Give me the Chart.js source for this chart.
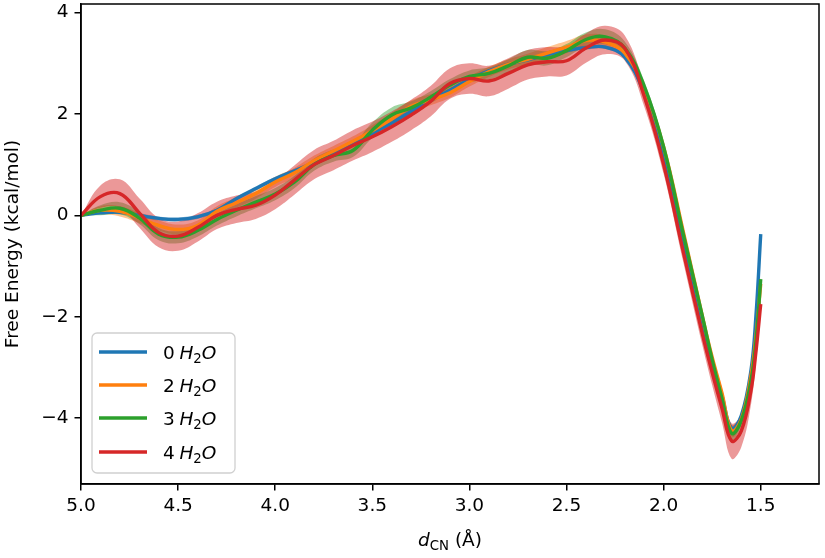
<!DOCTYPE html>
<html><head><meta charset="utf-8">
<script src="https://cdn.jsdelivr.net/npm/chart.js@4.4.0/dist/chart.umd.min.js"></script>
<style>html,body{margin:0;padding:0;background:#fff}#wrap{width:825px;height:558px;position:relative}</style>
</head><body><div id="wrap"><canvas id="c" width="825" height="558"></canvas></div>
<script>
// ---- data ----
const dCN = [5.0,4.9,4.8,4.7,4.6,4.5,4.4,4.3,4.2,4.1,4.0,3.9,3.8,3.7,3.6,3.5,3.4,3.3,3.2,3.1,3.0,2.9,2.8,2.7,2.6,2.5,2.4,2.3,2.2,2.1,2.0,1.9,1.8,1.75,1.7,1.65,1.6,1.55,1.525,1.5];
const seriesLabels = ['0 H2O','2 H2O','3 H2O','4 H2O'];
const e0 = [0,0.05,0.06,0.0,-0.06,-0.08,-0.03,0.1,0.33,0.53,0.72,0.88,1.04,1.2,1.4,1.62,1.82,2.05,2.27,2.47,2.68,2.85,2.98,3.07,3.17,3.25,3.31,3.32,3.12,2.4,1.2,-0.5,-2.2,-2.9,-3.55,-4.2,-3.95,-3.05,-2.0,-0.37];
const e2 = [0,0.1,0.08,-0.05,-0.2,-0.28,-0.2,0.08,0.25,0.43,0.66,0.84,1.08,1.27,1.46,1.67,1.9,2.15,2.28,2.42,2.64,2.83,2.98,3.08,3.2,3.32,3.45,3.42,3.2,2.5,1.35,-0.3,-2.0,-2.8,-3.5,-4.25,-4.02,-3.15,-2.4,-1.35];
const e3 = [0,0.1,0.14,-0.05,-0.37,-0.43,-0.3,-0.08,0.1,0.26,0.42,0.66,1.0,1.18,1.28,1.68,1.98,2.12,2.33,2.57,2.74,2.8,2.95,3.12,3.1,3.25,3.47,3.52,3.3,2.55,1.35,-0.35,-2.0,-2.85,-3.6,-4.3,-4.05,-3.25,-2.5,-1.26];
const e4 = [0,0.37,0.43,0.05,-0.34,-0.41,-0.24,0.0,0.12,0.2,0.4,0.7,1.0,1.18,1.38,1.55,1.75,1.98,2.25,2.6,2.7,2.65,2.8,2.97,3.03,3.05,3.3,3.46,3.3,2.35,1.0,-0.7,-2.35,-3.1,-3.8,-4.45,-4.25,-3.45,-2.7,-1.75];
const err0 = [0,0.03,0.04,0.04,0.04,0.04,0.04,0.04,0.04,0.04,0.04,0.04,0.04,0.04,0.04,0.04,0.04,0.04,0.04,0.04,0.04,0.04,0.04,0.04,0.04,0.04,0.04,0.04,0.04,0.04,0.04,0.04,0.04,0.04,0.05,0.06,0.05,0.04,0.04,0.03];
const err2 = [0,0.08,0.1,0.1,0.1,0.1,0.1,0.1,0.1,0.1,0.1,0.1,0.1,0.1,0.1,0.11,0.12,0.12,0.11,0.1,0.1,0.1,0.1,0.11,0.12,0.12,0.12,0.12,0.1,0.08,0.07,0.07,0.07,0.08,0.1,0.12,0.1,0.08,0.06,0.05];
const err3 = [0,0.1,0.12,0.12,0.12,0.12,0.12,0.12,0.12,0.12,0.12,0.12,0.12,0.12,0.13,0.15,0.15,0.13,0.12,0.12,0.12,0.12,0.13,0.14,0.14,0.13,0.14,0.15,0.13,0.1,0.08,0.08,0.08,0.08,0.1,0.12,0.1,0.08,0.06,0.05];
const err4 = [0,0.22,0.28,0.29,0.29,0.29,0.28,0.27,0.27,0.27,0.28,0.29,0.29,0.29,0.3,0.3,0.3,0.3,0.3,0.3,0.3,0.3,0.3,0.29,0.29,0.29,0.29,0.28,0.25,0.2,0.18,0.2,0.22,0.25,0.28,0.35,0.32,0.28,0.22,0.18];
const xTicks = [5.0,4.5,4.0,3.5,3.0,2.5,2.0,1.5];
const yTicks = [-4,-2,0,2,4];

// ---- styling ----
const FONT = '"DejaVu Sans", sans-serif';
const FS = 18.5;
const colors = ['#1f77b4','#ff7f0e','#2ca02c','#d62728'];
const bandColors = ['rgba(31,119,180,0.45)','rgba(255,127,14,0.45)','rgba(44,160,44,0.45)','rgba(214,39,40,0.48)'];
const values = [e0,e2,e3,e4];
const errs = [err0,err2,err3,err4];

function pts(ys, es, sign){ return dCN.map((x,i)=>({x:x, y: ys[i] + sign*(es ? es[i] : 0)})); }

const datasets = [];
values.forEach((v,i)=>{
  datasets.push({label:'band_hi_'+i, data:pts(v,errs[i],1), borderWidth:0, pointRadius:0, fill:'+1', backgroundColor:bandColors[i], tension:0.4, order:20-i});
  datasets.push({label:'band_lo_'+i, data:pts(v,errs[i],-1), borderWidth:0, pointRadius:0, fill:false, backgroundColor:'rgba(0,0,0,0)', borderColor:'rgba(0,0,0,0)', tension:0.4, order:20-i});
});
values.forEach((v,i)=>{
  datasets.push({label:seriesLabels[i], data:pts(v,null,0), borderColor:colors[i], borderWidth:3.4, pointRadius:0, fill:false, tension:0.4, order:8-i});
});

function drawFormula(ctx, text, x, y, size){
  const parts = text.split(' ');
  ctx.textBaseline = 'alphabetic';
  ctx.textAlign = 'left';
  ctx.font = size+'px '+FONT;
  ctx.fillText(parts[0], x, y);
  x += ctx.measureText(parts[0]).width + size*0.25;
  for (const ch of parts[1]) {
    if (/[0-9]/.test(ch)) {
      ctx.font = (size*0.72)+'px '+FONT;
      ctx.fillText(ch, x, y + size*0.22);
      x += ctx.measureText(ch).width;
    } else {
      ctx.font = 'italic '+size+'px '+FONT;
      ctx.fillText(ch, x, y);
      x += ctx.measureText(ch).width;
    }
  }
}

const decor = {
  id:'decor',
  afterDraw(chart){
    const ctx = chart.ctx, a = chart.chartArea;
    ctx.save();
    ctx.strokeStyle = '#000'; ctx.lineWidth = 1.5;
    ctx.strokeRect(a.left, a.top, a.right-a.left, a.bottom-a.top);
    // x title: d_CN (Å)
    ctx.fillStyle = '#000';
    const cx = (a.left+a.right)/2, base = 546;
    const sub = FS*0.72;
    ctx.font = 'italic '+FS+'px '+FONT; const wd = ctx.measureText('d').width;
    ctx.font = sub+'px '+FONT; const wcn = ctx.measureText('CN').width;
    ctx.font = FS+'px '+FONT; const wr = ctx.measureText(' (Å)').width;
    let x = cx - (wd+wcn+wr)/2;
    ctx.textAlign='left'; ctx.textBaseline='alphabetic';
    ctx.font = 'italic '+FS+'px '+FONT; ctx.fillText('d', x, base); x += wd;
    ctx.font = sub+'px '+FONT; ctx.fillText('CN', x, base+4); x += wcn;
    ctx.font = FS+'px '+FONT; ctx.fillText(' (Å)', x, base);
    // legend
    const lx=92, ly=333, lw=143, lh=140, r=5;
    ctx.beginPath();
    ctx.moveTo(lx+r,ly); ctx.lineTo(lx+lw-r,ly); ctx.arcTo(lx+lw,ly,lx+lw,ly+r,r);
    ctx.lineTo(lx+lw,ly+lh-r); ctx.arcTo(lx+lw,ly+lh,lx+lw-r,ly+lh,r);
    ctx.lineTo(lx+r,ly+lh); ctx.arcTo(lx,ly+lh,lx,ly+lh-r,r);
    ctx.lineTo(lx,ly+r); ctx.arcTo(lx,ly,lx+r,ly,r); ctx.closePath();
    ctx.fillStyle='rgba(255,255,255,0.8)'; ctx.fill();
    ctx.strokeStyle='#d0d0d0'; ctx.lineWidth=1.3; ctx.stroke();
    const rows = [352,385,418,452];
    seriesLabels.forEach((lab,i)=>{
      ctx.strokeStyle = colors[i]; ctx.lineWidth = 3.4;
      ctx.beginPath(); ctx.moveTo(99, rows[i]); ctx.lineTo(147, rows[i]); ctx.stroke();
      ctx.fillStyle = '#000';
      drawFormula(ctx, lab, 163, rows[i]+7, FS);
    });
    ctx.restore();
  }
};

new Chart(document.getElementById('c'), {
  type:'line',
  data:{datasets},
  options:{
    responsive:false, animation:false, devicePixelRatio:1,
    layout:{padding:{top:4,right:6,left:0,bottom:0}},
    plugins:{legend:{display:false}, tooltip:{enabled:false}, filler:{propagate:false}},
    scales:{
      x:{type:'linear', min:1.2, max:5.0, reverse:true,
        afterBuildTicks:s=>{ s.ticks = xTicks.map(v=>({value:v})); },
        afterFit:s=>{ s.height = 74; s.paddingLeft=0; s.paddingRight=0; },
        ticks:{callback:v=>Number(v).toFixed(1), font:{family:FONT,size:FS}, color:'#000', padding:5, maxRotation:0, autoSkip:false},
        grid:{display:true, drawOnChartArea:false, drawTicks:true, tickLength:6.5, color:'#000', lineWidth:1.5},
        border:{display:true, color:'#000', width:1.5}
      },
      y:{type:'linear', min:-5.3, max:4.17,
        afterBuildTicks:s=>{ s.ticks = yTicks.map(v=>({value:v})); },
        afterFit:s=>{ s.width = 81; s.paddingTop=0; s.paddingBottom=0; },
        ticks:{callback:v=> v<0 ? '\u2212'+Math.abs(v) : String(v), font:{family:FONT,size:FS}, color:'#000', padding:6},
        grid:{display:true, drawOnChartArea:false, drawTicks:true, tickLength:6.5, color:'#000', lineWidth:1.5},
        border:{display:true, color:'#000', width:1.5},
        title:{display:true, text:'Free Energy (kcal/mol)', font:{family:FONT,size:FS}, color:'#000', padding:{top:2,bottom:4}}
      }
    }
  },
  plugins:[decor]
});
</script></body></html>
